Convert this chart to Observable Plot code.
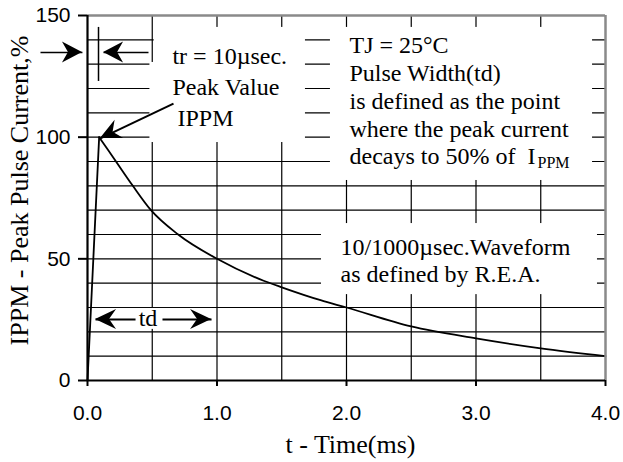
<!DOCTYPE html>
<html><head><meta charset="utf-8">
<script src="https://cdn.jsdelivr.net/npm/d3@7"></script>
<script src="https://cdn.jsdelivr.net/npm/@observablehq/plot@0.6"></script>
<style>body{margin:0;background:#fff}#chart svg{display:block;background:#fff}</style>
</head><body><div id="chart"></div>
<script>
// ---- data ----
const time    = [0, 0.09, 0.22, 0.35, 0.49, 0.70, 1.00, 1.36, 1.50, 1.80, 2.00, 2.50, 3.00, 3.50, 4.00];
const current = [0, 100,  90,   80,   70,   60,   50,   41,   38.3, 33,   30,   22.2, 17.3, 13.2, 10];
const xTicks = [0, 1, 2, 3, 4];
const yTicks = [0, 50, 100, 150];
const xGrid = [0.5, 1, 1.5, 2, 2.5, 3, 3.5];
const yGrid = [10, 20, 30, 40, 50, 60, 70, 80, 90, 100, 110, 120, 130, 140];
const xTitle = "t - Time(ms)";
const yTitle = "IPPM - Peak Pulse Current,%";
const noteTexts = [
  "tr = 10µsec.",
  "Peak Value",
  "IPPM",
  "TJ = 25°C\nPulse Width(td)\nis defined as the point\nwhere the peak current\ndecays to 50% of\u00a0\u00a0I",
  "10/1000µsec.Waveform\nas defined by R.E.A."
];
const subText = "PPM";
const tdText = "td";

// ---- annotation placement (data units) ----
const noteAt = [[0.656,130.2],[0.656,117.4],[0.695,104.5],[2.023,88.8],[1.954,40.3]];
const notes = noteTexts.map((t,i)=>({x:noteAt[i][0], y:noteAt[i][1], text:t}));
const boxes = [
  {x1:0.515,x2:1.683,y1:130.7,y2:145.1},
  {x1:0.482,x2:1.683,y1:97.8,y2:130.7},
  {x1:1.876,x2:3.90,y1:82.2,y2:145.1},
  {x1:1.807,x2:3.938,y1:35.3,y2:64.5},
  {x1:0.062,x2:0.965,y1:21.0,y2:29.6}
];
const arrowsThin = [
  {x1:-0.363,y1:134.8,x2:-0.039,y2:134.8},
  {x1:0.471,y1:134.8,x2:0.124,y2:134.8}
];
const arrowsBold = [
  {x1:0.664,y1:113.8,x2:0.10,y2:99.5},
  {x1:0.371,y1:25.1,x2:0.062,y2:25.1},
  {x1:0.579,y1:25.1,x2:0.958,y2:25.1}
];
const trTick = [{x:0.085,y1:122.9,y2:145.1}];

const rise = time.slice(0,2).map((t,i)=>({t, v:current[i]}));
const decay = time.slice(1).map((t,i)=>({t, v:current[i+1]}));

const serif = "'Liberation Serif','Times New Roman',serif";
const sans = "'Liberation Sans',Arial,sans-serif";

function heads(list, L, W, N) {
  return (index, scales) => {
    const g = d3.create("svg:g").attr("fill", "black");
    for (const a of list) {
      const X1 = scales.x(a.x1), Y1 = scales.y(a.y1), X2 = scales.x(a.x2), Y2 = scales.y(a.y2);
      const ang = Math.atan2(Y2 - Y1, X2 - X1) * 180 / Math.PI;
      g.append("path")
        .attr("d", `M0,0L${-L},${-W/2}L${-N},0L${-L},${W/2}Z`)
        .attr("transform", `translate(${X2},${Y2}) rotate(${ang})`);
    }
    return g.node();
  };
}

const plot = Plot.plot({
  width: 623, height: 462,
  marginLeft: 87, marginRight: 18, marginTop: 15, marginBottom: 82,
  x: {domain: [0, 4]},
  y: {domain: [0, 150]},
  style: {background: "#fff", color: "#000"},
  marks: [
    Plot.ruleX(xGrid, {stroke: "#000", strokeWidth: 1.2}),
    Plot.ruleY(yGrid, {stroke: "#000", strokeWidth: 1.2}),
    Plot.rect(boxes, {x1:"x1", x2:"x2", y1:"y1", y2:"y2", fill:"#fff"}),
    Plot.line(rise, {x:"t", y:"v", stroke:"#000", strokeWidth:1.8}),
    Plot.line(decay, {x:"t", y:"v", stroke:"#000", strokeWidth:1.8, curve:"monotone-x"}),
    Plot.link(arrowsThin, {x1:"x1", y1:"y1", x2:"x2", y2:"y2", stroke:"#000", strokeWidth:1.5}),
    Plot.link(arrowsBold, {x1:"x1", y1:"y1", x2:"x2", y2:"y2", stroke:"#000", strokeWidth:2}),
    Plot.ruleX(trTick, {x:"x", y1:"y1", y2:"y2", stroke:"#000", strokeWidth:1.5}),
    heads(arrowsThin, 20, 21, 14),
    heads(arrowsBold, 21, 20, 14),
    Plot.text(notes, {x:"x", y:"y", text:"text", textAnchor:"start", lineAnchor:"bottom", lineHeight:1.156, fontSize:24, fontFamily:serif, fill:"#000"}),
    Plot.text([subText], {x:[3.475], y:[87.5], text:d=>d, textAnchor:"start", lineAnchor:"bottom", fontSize:16, fontFamily:serif, fill:"#000"}),
    Plot.text([tdText], {x:[0.467], y:[22.6], text:d=>d, textAnchor:"middle", lineAnchor:"bottom", fontSize:24, fontFamily:serif, fill:"#000"}),
    Plot.axisX({ticks: xTicks, tickFormat: d3.format(".1f"), tickSize: 6, tickPadding: 19, fontSize: 21, fontFamily: sans, strokeWidth: 2, label: null}),
    Plot.axisY({ticks: yTicks, tickFormat: d3.format("d"), tickSize: 9, tickPadding: 8, fontSize: 21, fontFamily: sans, strokeWidth: 2, label: null}),
    Plot.ruleY([150], {stroke: "#8a8a8a", strokeWidth: 2.5}),
    Plot.ruleX([4], {stroke: "#8a8a8a", strokeWidth: 2.5}),
    Plot.ruleY([0], {stroke: "#000", strokeWidth: 2.2}),
    Plot.ruleX([0], {stroke: "#000", strokeWidth: 2.2}),
    Plot.text([yTitle], {frameAnchor:"left", dx:-68, dy:-7.5, rotate:-90, text:d=>d, textAnchor:"middle", lineAnchor:"middle", fontSize:26, fontFamily:serif, fill:"#000"}),
    Plot.text([xTitle], {frameAnchor:"bottom", dx:4, dy:72, text:d=>d, textAnchor:"middle", lineAnchor:"bottom", fontSize:26, fontFamily:serif, fill:"#000"})
  ]
});
document.getElementById("chart").append(plot);
</script>
</body></html>
